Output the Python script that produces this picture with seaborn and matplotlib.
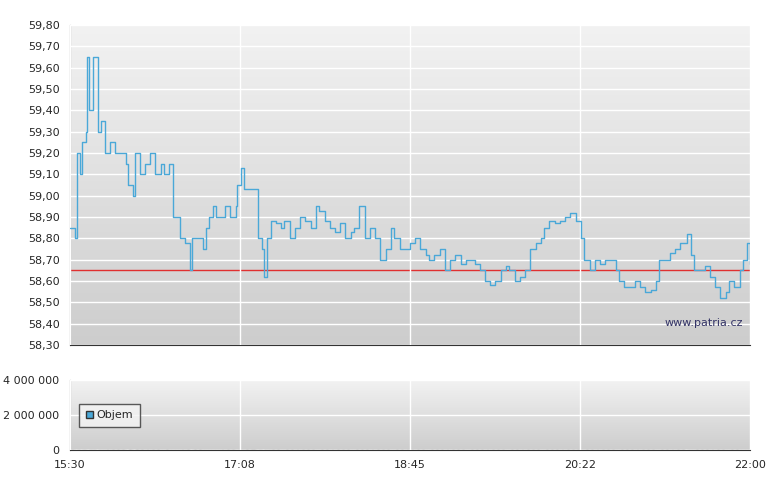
import numpy as np
import pandas as pd
import matplotlib
matplotlib.use("Agg")
import matplotlib.pyplot as plt
import seaborn as sns
from matplotlib.colors import LinearSegmentedColormap
from matplotlib.patches import Patch

prices = [58.85, 58.80, 59.20, 59.10, 59.25, 59.30, 59.65, 59.40, 59.65, 59.65, 59.30, 59.35, 59.20, 59.25,
          59.20, 59.20, 59.15, 59.05, 59.00, 59.20, 59.10, 59.15, 59.20, 59.10, 59.15, 59.10, 59.15, 58.90,
          58.90, 58.80, 58.78, 58.65, 58.80, 58.80, 58.75, 58.85, 58.90, 58.95, 58.90, 58.90, 58.95, 58.90,
          58.95, 59.05, 59.13, 59.03, 59.03, 59.03, 58.80, 58.75, 58.62, 58.80, 58.88, 58.87, 58.85, 58.88,
          58.80, 58.85, 58.90, 58.88, 58.85, 58.95, 58.93, 58.88, 58.85, 58.83, 58.87, 58.80, 58.83, 58.85,
          58.95, 58.80, 58.85, 58.80, 58.70, 58.75, 58.85, 58.80, 58.75, 58.75, 58.78, 58.80, 58.75, 58.72,
          58.70, 58.72, 58.75, 58.65, 58.70, 58.72, 58.68, 58.70, 58.70, 58.68, 58.65, 58.60, 58.58, 58.60,
          58.65, 58.67, 58.65, 58.60, 58.62, 58.65, 58.75, 58.78, 58.80, 58.85, 58.88, 58.87, 58.88, 58.90,
          58.92, 58.88, 58.80, 58.70, 58.65, 58.70, 58.68, 58.70, 58.70, 58.65, 58.60, 58.57, 58.57, 58.60,
          58.57, 58.55, 58.56, 58.60, 58.70, 58.70, 58.73, 58.75, 58.78, 58.78, 58.82, 58.72, 58.65, 58.65,
          58.67, 58.62, 58.57, 58.52, 58.55, 58.60, 58.57, 58.65, 58.70, 58.78, 58.68]
minutes = [0, 3, 4, 6, 7, 9, 10, 11, 13, 15, 16, 18, 20, 23,
           26, 29, 32, 33, 36, 37, 40, 43, 46, 49, 52, 54, 57, 59,
           61, 63, 66, 69, 70, 73, 76, 78, 80, 82, 84, 86, 89, 92,
           95, 96, 98, 100, 103, 107, 108, 110, 111, 113,
           115, 118, 121, 123, 126, 129, 132, 135, 138, 141,
           143, 146, 149, 152, 155, 158, 161, 163, 166, 169,
           172, 175, 178, 181, 184, 186, 189, 192, 195, 198,
           201, 204, 206, 209, 212, 215, 218, 221, 224, 227,
           229, 232, 235, 238, 241, 244, 247, 250, 252, 255,
           258, 261, 264, 267, 270, 272, 275, 278, 281, 284,
           287, 290, 293, 295, 298, 301, 304, 307, 310, 313,
           315, 318, 321, 324, 327, 330, 333, 336, 338, 341,
           344, 347, 350, 353,
           354, 356, 358, 361, 364, 367, 370, 373, 376, 378, 381, 384, 386, 388, 390]
reference_price = 58.65
tick_labels = ["15:30", "17:08", "18:45", "20:22", "22:00"]
volume = [0.0] * len(prices)

df = pd.DataFrame({"t": minutes, "p": prices, "v": volume})

sns.set_style("white")
fig = plt.figure(figsize=(7.8, 4.9), dpi=100)
ax = fig.add_axes([70/780, 145/490, 680/780, 320/490])
axv = fig.add_axes([70/780, 40/490, 680/780, 70/490])
cmap = LinearSegmentedColormap.from_list("g", ["#f2f2f2", "#cdcdcd"])
grad = np.linspace(0, 1, 256).reshape(-1, 1)

ticks = np.linspace(0, 390, 5)
for a, ylim in [(ax, (58.3, 59.8)), (axv, (0, 4e6))]:
    a.imshow(grad, cmap=cmap, aspect="auto", extent=[0, 390, ylim[0], ylim[1]], zorder=0)
    a.set_xlim(0, 390); a.set_ylim(*ylim)
    a.set_xticks(ticks)
    a.grid(True, color="white", lw=1)
    a.set_axisbelow(False)
    for s in ["top", "right"]:
        a.spines[s].set_visible(False)
    for s in ["left", "bottom"]:
        a.spines[s].set_color("#333333")
    a.tick_params(labelsize=8, length=4, color="#333333", direction="out")

sns.lineplot(data=df, x="t", y="p", ax=ax, color="#4aa8d8", lw=1, drawstyle="steps-post", zorder=3)
ax.axhline(reference_price, color="#e03030", lw=1, zorder=2)
yt = np.round(np.arange(58.3, 59.81, 0.1), 2)
ax.set_yticks(yt)
ax.set_yticklabels([f"{v:.2f}".replace(".", ",") for v in yt])
ax.set_xticklabels([])
ax.set_xlabel(""); ax.set_ylabel("")
ax.text(0.99, 0.06, "www.patria.cz", transform=ax.transAxes, ha="right", fontsize=8, color="#333366")

axv.bar(df["t"], df["v"], width=2, color="#4aa8d8", zorder=3)
axv.set_yticks([0, 2e6, 4e6])
axv.set_yticklabels(["0", "2 000 000", "4 000 000"])
axv.set_xticklabels(tick_labels)
leg = axv.legend(handles=[Patch(facecolor="#4aa8d8", edgecolor="#333333", label="Objem")],
                 loc="lower left", bbox_to_anchor=(0.005, 0.25), fontsize=8, frameon=True,
                 fancybox=False, handlelength=0.7, handleheight=0.7, borderpad=0.6,
                 handletextpad=0.3)
leg.get_frame().set_edgecolor("#333333")
leg.get_frame().set_facecolor("#f4f4f4")

fig.savefig("out.png", dpi=100)
